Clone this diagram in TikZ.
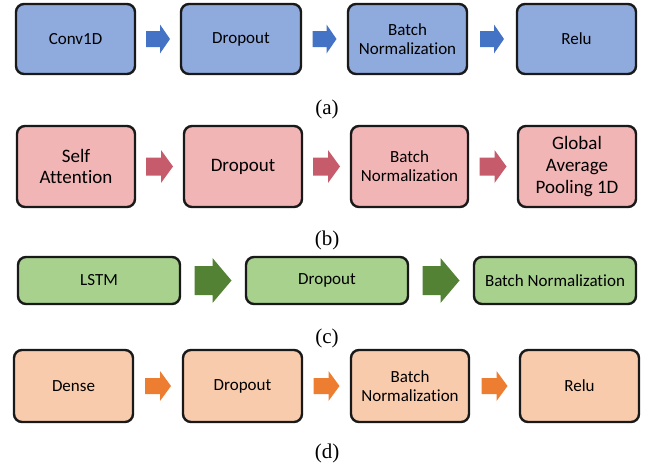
\documentclass[tikz,border=0pt]{standalone}
\usepackage{fontspec}
\setmainfont{Liberation Serif}
\newfontfamily\boxfont[Ligatures={NoCommon}]{Carlito}
\usetikzlibrary{calc}

\definecolor{blueBox}{HTML}{8FAADC}
\definecolor{blueArrow}{HTML}{4472C4}
\definecolor{pinkBox}{HTML}{F2B5B6}
\definecolor{pinkArrow}{HTML}{C65B6C}
\definecolor{greenBox}{HTML}{A9D18E}
\definecolor{greenArrow}{HTML}{548235}
\definecolor{orangeBox}{HTML}{F8CBAD}
\definecolor{orangeArrow}{HTML}{ED7D31}

% block arrow centred between two nodes:
% #1 from node, #2 to node, #3 total length, #4 head length,
% #5 head half-height, #6 shaft half-height, #7 colour
\newcommand\blockarrow[7]{%
  \path ($(#1.east)!0.5!(#2.west)$) coordinate (m);
  \fill[#7]
    ($(m)+(-#3/2,-#6)$) -- ($(m)+(#3/2-#4,-#6)$) -- ($(m)+(#3/2-#4,-#5)$)
    -- ($(m)+(#3/2,0)$) -- ($(m)+(#3/2-#4,#5)$) -- ($(m)+(#3/2-#4,#6)$)
    -- ($(m)+(-#3/2,#6)$) -- cycle;
}

\tikzset{
  layer/.style={draw=black!90, line width=2.4pt, rounded corners=8pt,
    align=center, inner sep=2pt,
    font=\boxfont\fontsize{17}{19.2}\selectfont},
  bigtext/.style={font=\boxfont\fontsize{19}{21.7}\selectfont},
  caption/.style={font=\fontsize{21}{24}\selectfont, inner sep=0pt},
}

\begin{document}
\begin{tikzpicture}[x=1pt, y=-1pt]
\useasboundingbox (0,0) rectangle (657,466);

% (a) convolutional block
\begin{scope}[every node/.append style={layer, fill=blueBox, minimum height=70pt}]
  \node[minimum width=119pt] (a1) at (75.5,39) {Conv1D};
  \node[minimum width=120pt] (a2) at (241,39) {Dropout};
  \node[minimum width=119pt] (a3) at (407.5,39) {Batch\\Normalization};
  \node[minimum width=119pt] (a4) at (576.5,39) {Relu};
\end{scope}
\blockarrow{a1}{a2}{24}{10}{14.5}{8}{blueArrow}
\blockarrow{a2}{a3}{24}{10}{14.5}{8}{blueArrow}
\blockarrow{a3}{a4}{24}{10}{14.5}{8}{blueArrow}
\node[caption] (capa) at (327,109) {(a)};

% (b) attention block
\begin{scope}[every node/.append style={layer, fill=pinkBox, minimum height=81pt}]
  \node[bigtext, minimum width=118pt] (b1) at (76,166.5) {Self\\Attention};
  \node[bigtext, minimum width=118pt] (b2) at (243,166.5) {Dropout};
  \node[minimum width=117pt] (b3) at (409.5,166.5) {Batch\\Normalization};
  \node[bigtext, minimum width=118pt] (b4) at (577,166.5) {Global\\Average\\Pooling 1D};
\end{scope}
\blockarrow{b1}{b2}{27}{12}{16.5}{9}{pinkArrow}
\blockarrow{b2}{b3}{27}{12}{16.5}{9}{pinkArrow}
\blockarrow{b3}{b4}{27}{12}{16.5}{9}{pinkArrow}
\node[caption] (capb) at (327,240) {(b)};

% (c) recurrent block
\begin{scope}[every node/.append style={layer, fill=greenBox, minimum height=47pt, minimum width=162pt}]
  \node (c1) at (99,280.5) {LSTM};
  \node (c2) at (327,280.5) {Dropout};
  \node (c3) at (555,280.5) {Batch Normalization};
\end{scope}
\blockarrow{c1}{c2}{37}{19}{22.5}{14.5}{greenArrow}
\blockarrow{c2}{c3}{37}{19}{22.5}{14.5}{greenArrow}
\node[caption] (capc) at (327,338) {(c)};

% (d) dense block
\begin{scope}[every node/.append style={layer, fill=orangeBox, minimum height=72pt}]
  \node[minimum width=119pt] (d1) at (73.5,386) {Dense};
  \node[minimum width=119pt] (d2) at (242.5,386) {Dropout};
  \node[minimum width=118pt] (d3) at (410,386) {Batch\\Normalization};
  \node[minimum width=119pt] (d4) at (579.5,386) {Relu};
\end{scope}
\blockarrow{d1}{d2}{26}{11}{15}{8}{orangeArrow}
\blockarrow{d2}{d3}{26}{11}{15}{8}{orangeArrow}
\blockarrow{d3}{d4}{26}{11}{15}{8}{orangeArrow}
\node[caption] (capd) at (327,453) {(d)};
\end{tikzpicture}
\end{document}
